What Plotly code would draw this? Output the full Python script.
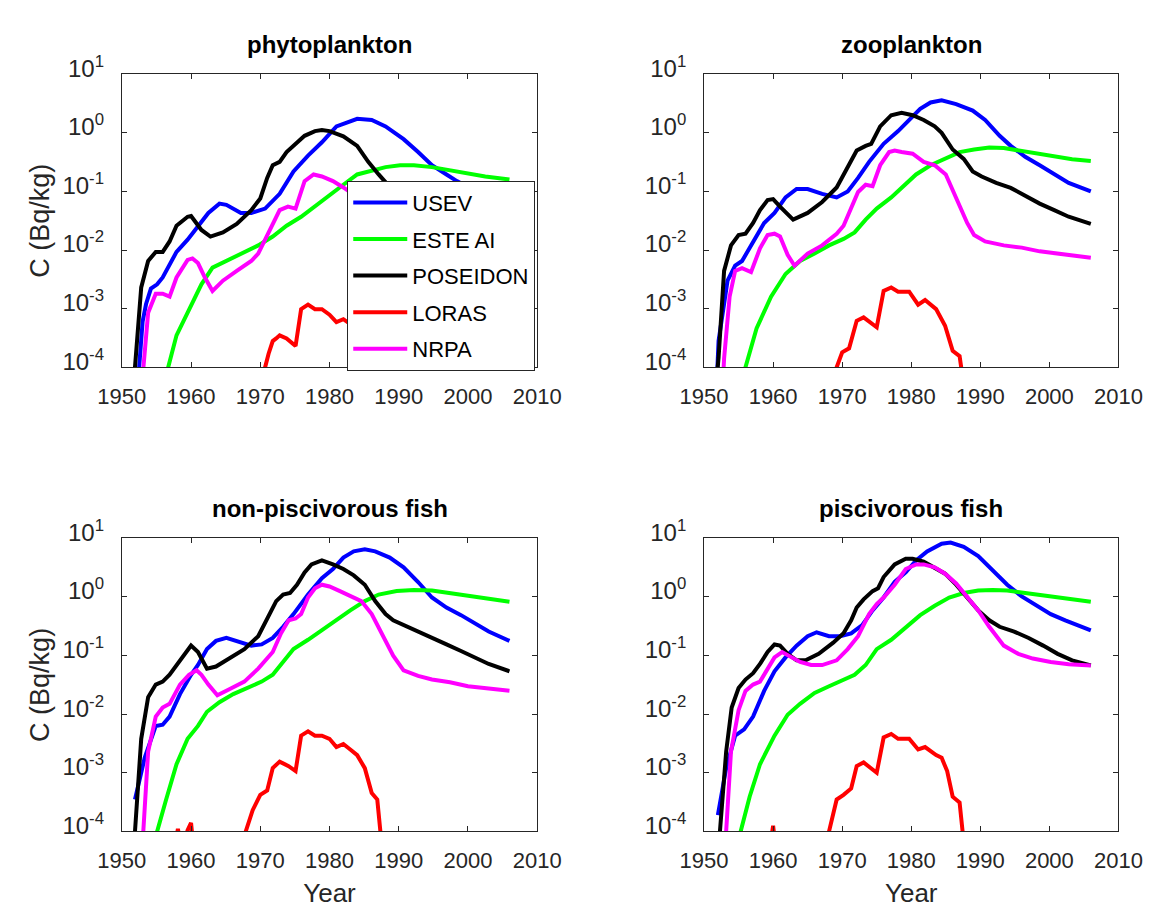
import plotly.graph_objects as go

# ---------------- data (C in Bq/kg vs year) ----------------
series_names = ["USEV", "ESTE AI", "POSEIDON", "LORAS", "NRPA"]
series_colors = ["#0000ff", "#00ff00", "#000000", "#ff0000", "#ff00ff"]
panel_titles = ["phytoplankton", "zooplankton", "non-piscivorous fish", "piscivorous fish"]
x_ticks = [1950, 1960, 1970, 1980, 1990, 2000, 2010]
y_ticks = [1e-4, 1e-3, 1e-2, 1e-1, 1e0, 1e1]
y_ticktext = ["10<sup>-4</sup>", "10<sup>-3</sup>", "10<sup>-2</sup>", "10<sup>-1</sup>", "10<sup>0</sup>", "10<sup>1</sup>"]

# phytoplankton
phyto_usev_year = [1952.2, 1952.5, 1953.0, 1953.5, 1954.2, 1955.1, 1955.9, 1957.9, 1959.5, 1961.0, 1962.5, 1964.1, 1965.1, 1967.2, 1968.7, 1970.7, 1972.8, 1974.8, 1976.9, 1978.9, 1981.0, 1984.0, 1986.1, 1988.1, 1990.7, 1992.8, 1994.8, 1996.9, 1998.4, 2000.5, 2003.0, 2006.0]
phyto_usev = [5e-5, 1e-4, 6e-4, 1.2e-3, 2.2e-3, 2.6e-3, 3.4e-3, 9.3e-3, 1.5e-2, 2.6e-2, 4.3e-2, 6.2e-2, 5.9e-2, 4.3e-2, 4.3e-2, 5.1e-2, 9.1e-2, 0.22, 0.41, 0.69, 1.29, 1.74, 1.66, 1.29, 0.78, 0.47, 0.28, 0.195, 0.15, 0.11, 0.075, 0.055]
phyto_este_year = [1956.4, 1956.7, 1957.9, 1960.0, 1961.5, 1963.1, 1965.1, 1967.2, 1969.7, 1971.8, 1973.8, 1975.9, 1977.9, 1980.0, 1982.0, 1984.0, 1986.1, 1988.1, 1990.2, 1992.2, 1994.8, 1997.4, 2000.0, 2002.5, 2006.0]
phyto_este = [5e-5, 1e-4, 3.5e-4, 1.1e-3, 2.6e-3, 5.0e-3, 6.5e-3, 8.3e-3, 1.2e-2, 1.7e-2, 2.6e-2, 3.7e-2, 5.5e-2, 8.5e-2, 0.13, 0.195, 0.23, 0.26, 0.28, 0.28, 0.26, 0.23, 0.20, 0.18, 0.16]
phyto_pos_year = [1951.7, 1951.9, 1952.8, 1953.8, 1954.9, 1955.9, 1956.9, 1957.9, 1959.5, 1960.0, 1961.5, 1962.8, 1964.6, 1966.6, 1968.7, 1970.0, 1971.0, 1971.8, 1972.8, 1973.8, 1975.3, 1976.4, 1977.9, 1978.9, 1980.0, 1982.0, 1984.0, 1985.6, 1987.1, 1987.9, 1990.0, 1995.0, 2000.0, 2006.0]
phyto_pos = [5e-5, 1e-4, 2.3e-3, 6.5e-3, 9.3e-3, 9.3e-3, 1.4e-2, 2.6e-2, 3.7e-2, 3.8e-2, 2.2e-2, 1.7e-2, 2.0e-2, 2.8e-2, 4.8e-2, 7.6e-2, 0.17, 0.28, 0.32, 0.47, 0.68, 0.89, 1.07, 1.12, 1.07, 0.87, 0.60, 0.32, 0.195, 0.15, 0.08, 0.04, 0.025, 0.015]
phyto_loras_year = [1970.4, 1970.7, 1971.2, 1971.8, 1972.3, 1972.8, 1973.8, 1975.1, 1975.9, 1976.9, 1977.9, 1978.9, 1980.0, 1981.0, 1982.0, 1982.6, 1984.0, 1985.0, 1985.8, 1986.3]
phyto_loras = [5e-5, 1e-4, 1.7e-4, 2.8e-4, 3.1e-4, 3.5e-4, 3.1e-4, 2.3e-4, 9.8e-4, 1.17e-3, 9.8e-4, 9.8e-4, 7.9e-4, 5.9e-4, 6.6e-4, 5.9e-4, 4.5e-4, 2.5e-4, 1.2e-4, 5e-5]
phyto_nrpa_year = [1952.9, 1953.1, 1953.8, 1954.9, 1955.9, 1956.9, 1957.9, 1959.5, 1960.2, 1961.0, 1962.0, 1963.1, 1964.6, 1966.6, 1968.7, 1969.7, 1971.2, 1972.8, 1974.0, 1975.1, 1976.4, 1977.7, 1978.9, 1980.5, 1982.0, 1984.0, 1986.0, 1988.0, 1990.0, 1995.0, 2000.0, 2006.0]
phyto_nrpa = [5e-5, 1e-4, 8.5e-4, 1.8e-3, 1.8e-3, 1.6e-3, 3.4e-3, 6.8e-3, 7.2e-3, 6.0e-3, 3.4e-3, 2.0e-3, 3.0e-3, 4.4e-3, 6.5e-3, 8.7e-3, 2.0e-2, 4.8e-2, 5.5e-2, 5.1e-2, 0.15, 0.195, 0.18, 0.15, 0.117, 0.08, 0.03, 0.012, 0.006, 0.005, 0.004, 0.003]

# zooplankton
zoo_usev_year = [1951.9, 1952.1, 1953.4, 1954.5, 1955.5, 1957.1, 1958.7, 1960.2, 1961.8, 1963.4, 1965.0, 1967.1, 1969.2, 1970.8, 1972.3, 1973.9, 1976.0, 1978.1, 1979.7, 1981.3, 1982.8, 1984.4, 1986.5, 1988.9, 1990.7, 1992.8, 1994.4, 1996.5, 1998.6, 2000.7, 2002.8, 2006.0]
zoo_usev = [8e-5, 2.8e-4, 3.0e-3, 5.4e-3, 6.5e-3, 1.4e-2, 2.9e-2, 4.3e-2, 7.9e-2, 0.11, 0.11, 0.091, 0.079, 0.10, 0.17, 0.32, 0.65, 1.07, 1.66, 2.57, 3.3, 3.6, 3.1, 2.4, 1.66, 0.89, 0.60, 0.39, 0.28, 0.195, 0.14, 0.10]
zoo_este_year = [1955.7, 1956.0, 1957.6, 1959.7, 1961.8, 1963.9, 1966.0, 1968.1, 1970.2, 1971.8, 1973.4, 1975.0, 1977.1, 1978.6, 1980.7, 1982.8, 1984.9, 1987.0, 1989.1, 1991.3, 1993.4, 1995.5, 1998.1, 2000.7, 2003.3, 2006.0]
zoo_este = [5e-5, 1e-4, 4.6e-4, 1.6e-3, 3.9e-3, 6.5e-3, 8.7e-3, 1.2e-2, 1.55e-2, 2.0e-2, 3.3e-2, 5.1e-2, 7.9e-2, 0.117, 0.195, 0.28, 0.36, 0.47, 0.52, 0.56, 0.55, 0.50, 0.44, 0.39, 0.355, 0.33]
zoo_pos_year = [1951.9, 1952.1, 1952.9, 1953.9, 1955.0, 1956.0, 1957.1, 1958.1, 1959.2, 1960.0, 1961.0, 1962.9, 1965.0, 1967.1, 1969.2, 1970.8, 1972.1, 1973.4, 1974.2, 1975.5, 1977.1, 1978.6, 1980.2, 1981.8, 1983.4, 1984.4, 1986.0, 1987.6, 1988.9, 1990.2, 1992.3, 1994.4, 1996.5, 1998.6, 2000.7, 2002.8, 2006.0]
zoo_pos = [8e-5, 1.45e-4, 4.4e-3, 1.2e-2, 1.8e-2, 1.9e-2, 2.9e-2, 4.8e-2, 7.1e-2, 7.4e-2, 5.5e-2, 3.3e-2, 4.3e-2, 6.6e-2, 0.117, 0.25, 0.50, 0.60, 0.65, 1.29, 2.0, 2.19, 2.0, 1.66, 1.29, 1.0, 0.52, 0.36, 0.22, 0.18, 0.14, 0.115, 0.085, 0.062, 0.048, 0.037, 0.028]
zoo_loras_year = [1969.0, 1969.2, 1970.0, 1971.0, 1972.1, 1973.1, 1975.0, 1976.0, 1977.1, 1978.1, 1979.7, 1981.0, 1982.0, 1983.6, 1984.9, 1986.0, 1987.0, 1987.3, 1987.5]
zoo_loras = [7e-5, 1e-4, 1.8e-4, 2.1e-4, 6.2e-4, 7.1e-4, 4.8e-4, 2.0e-3, 2.3e-3, 1.95e-3, 1.95e-3, 1.17e-3, 1.4e-3, 9.8e-4, 5.1e-4, 1.9e-4, 1.55e-4, 1e-4, 6e-5]
zoo_nrpa_year = [1952.7, 1952.9, 1953.7, 1954.5, 1955.5, 1956.8, 1958.1, 1959.2, 1960.2, 1961.0, 1962.1, 1963.1, 1965.0, 1967.1, 1969.2, 1970.2, 1972.3, 1973.4, 1974.4, 1975.5, 1976.8, 1977.6, 1978.6, 1980.2, 1981.8, 1983.4, 1985.0, 1986.5, 1988.1, 1989.1, 1990.7, 1993.4, 1996.0, 1998.6, 2001.3, 2006.0]
zoo_nrpa = [5e-5, 1.4e-4, 1.6e-3, 4.4e-3, 4.9e-3, 4.2e-3, 1.07e-2, 1.8e-2, 1.9e-2, 1.7e-2, 8.3e-3, 5.4e-3, 8.7e-3, 1.2e-2, 1.9e-2, 2.6e-2, 9.8e-2, 0.13, 0.123, 0.28, 0.47, 0.50, 0.47, 0.44, 0.32, 0.28, 0.195, 0.079, 0.029, 0.018, 0.014, 0.012, 0.011, 0.0095, 0.0087, 0.0074]

# non-piscivorous fish
np_usev_year = [1951.9, 1953.3, 1954.9, 1955.9, 1956.9, 1958.4, 1960.0, 1961.0, 1962.3, 1963.6, 1965.1, 1966.6, 1968.7, 1970.2, 1971.8, 1973.3, 1974.8, 1976.9, 1978.9, 1980.5, 1982.0, 1983.5, 1985.1, 1986.6, 1988.7, 1990.7, 1992.8, 1994.8, 1996.9, 1999.0, 2001.0, 2003.0, 2006.0]
np_usev = [3.5e-4, 1.8e-3, 6.3e-3, 6.6e-3, 9.1e-3, 2.2e-2, 4.7e-2, 6.9e-2, 0.129, 0.178, 0.20, 0.178, 0.148, 0.155, 0.20, 0.31, 0.51, 1.1, 2.1, 3.0, 4.7, 6.0, 6.5, 6.0, 4.7, 3.2, 1.8, 0.98, 0.66, 0.49, 0.355, 0.257, 0.178]
np_este_year = [1954.8, 1955.1, 1956.4, 1957.9, 1959.5, 1961.0, 1962.3, 1964.1, 1966.1, 1968.2, 1970.2, 1971.8, 1973.3, 1974.8, 1976.9, 1978.9, 1981.0, 1983.0, 1985.1, 1987.1, 1989.7, 1992.2, 1994.8, 1997.4, 2000.0, 2002.5, 2006.0]
np_este = [5e-5, 1e-4, 3.5e-4, 1.4e-3, 3.8e-3, 6.3e-3, 1.1e-2, 1.6e-2, 2.2e-2, 2.8e-2, 3.6e-2, 4.7e-2, 7.8e-2, 0.129, 0.186, 0.275, 0.40, 0.59, 0.85, 1.1, 1.26, 1.32, 1.29, 1.17, 1.07, 0.95, 0.83]
np_pos_year = [1951.7, 1951.9, 1952.8, 1953.8, 1954.9, 1955.9, 1956.9, 1957.9, 1959.0, 1960.0, 1961.0, 1962.3, 1963.6, 1965.6, 1967.7, 1969.7, 1971.2, 1972.3, 1973.3, 1974.3, 1975.3, 1976.4, 1977.4, 1978.9, 1980.5, 1982.0, 1983.5, 1985.1, 1986.6, 1988.1, 1989.2, 1990.7, 1992.8, 1994.8, 1996.9, 1999.0, 2001.0, 2003.0, 2006.0]
np_pos = [5e-5, 1e-4, 3.8e-3, 1.95e-2, 3.2e-2, 3.6e-2, 4.7e-2, 6.9e-2, 0.107, 0.148, 0.115, 0.06, 0.065, 0.089, 0.129, 0.214, 0.457, 0.85, 1.1, 1.17, 1.62, 2.63, 3.6, 4.2, 3.6, 3.0, 2.34, 1.62, 0.85, 0.51, 0.40, 0.33, 0.257, 0.20, 0.155, 0.12, 0.093, 0.072, 0.054]
np_loras_year = [1957.7, 1958.1, 1958.5, 1958.8, 1959.0, 1959.5, 1960.0, 1960.3, 1964.0, 1967.6, 1967.9, 1968.9, 1970.0, 1971.0, 1971.8, 1972.8, 1974.1, 1975.1, 1975.9, 1976.9, 1977.9, 1978.9, 1980.0, 1981.0, 1982.0, 1983.0, 1984.0, 1985.1, 1986.1, 1986.9, 1987.4, 1987.6]
np_loras = [6e-5, 1.1e-4, 6e-5, None, 6e-5, 1.05e-4, 1.4e-4, 6e-5, None, 5e-5, 1e-4, 2.3e-4, 4.2e-4, 5.0e-4, 1.2e-3, 1.55e-3, 1.3e-3, 1.07e-3, 4.3e-3, 5.1e-3, 4.3e-3, 4.3e-3, 3.8e-3, 2.75e-3, 3.1e-3, 2.5e-3, 2.0e-3, 1.2e-3, 4.5e-4, 3.5e-4, 1e-4, 5e-5]
np_nrpa_year = [1952.9, 1953.1, 1953.8, 1954.9, 1955.9, 1956.9, 1958.4, 1959.7, 1960.8, 1961.5, 1962.5, 1963.8, 1965.6, 1967.7, 1969.7, 1971.8, 1973.0, 1974.1, 1975.1, 1975.9, 1976.9, 1977.9, 1978.9, 1980.0, 1981.5, 1983.0, 1984.6, 1986.1, 1987.6, 1989.2, 1990.7, 1992.8, 1994.8, 1997.4, 2000.0, 2003.0, 2006.0]
np_nrpa = [5e-5, 1e-4, 2.3e-3, 9.1e-3, 1.3e-2, 1.5e-2, 3.2e-2, 4.7e-2, 5.6e-2, 4.7e-2, 3.2e-2, 2.1e-2, 2.7e-2, 3.6e-2, 6.0e-2, 0.115, 0.24, 0.40, 0.43, 0.51, 0.98, 1.41, 1.62, 1.51, 1.26, 1.02, 0.85, 0.51, 0.24, 0.10, 0.056, 0.045, 0.039, 0.035, 0.030, 0.0275, 0.025]

# piscivorous fish
pf_usev_year = [1952.0, 1953.2, 1954.5, 1955.8, 1957.1, 1958.7, 1960.2, 1961.8, 1963.4, 1965.0, 1966.3, 1968.1, 1969.7, 1971.3, 1972.9, 1974.4, 1976.0, 1977.6, 1979.2, 1980.7, 1982.3, 1984.4, 1985.7, 1987.6, 1989.7, 1991.8, 1993.9, 1996.0, 1998.1, 2000.2, 2002.3, 2006.0]
pf_usev = [1.9e-4, 1.2e-3, 4.3e-3, 5.5e-3, 9.1e-3, 2.5e-2, 5.4e-2, 9.3e-2, 0.148, 0.214, 0.25, 0.214, 0.214, 0.24, 0.33, 0.59, 0.98, 1.82, 2.63, 4.2, 6.0, 8.1, 8.5, 7.2, 5.0, 2.8, 1.62, 1.02, 0.71, 0.51, 0.40, 0.27]
pf_este_year = [1955.0, 1955.3, 1956.6, 1958.1, 1960.2, 1962.1, 1963.9, 1966.0, 1968.1, 1970.2, 1971.8, 1973.4, 1975.0, 1977.1, 1979.2, 1981.3, 1983.4, 1985.5, 1987.6, 1989.7, 1991.8, 1993.9, 1996.5, 1999.1, 2001.8, 2006.0]
pf_este = [5e-5, 1e-4, 3.9e-4, 1.4e-3, 4.3e-3, 9.8e-3, 1.5e-2, 2.3e-2, 3.0e-2, 3.9e-2, 4.7e-2, 6.9e-2, 0.129, 0.186, 0.295, 0.49, 0.71, 0.98, 1.17, 1.29, 1.32, 1.29, 1.17, 1.07, 0.98, 0.83]
pf_pos_year = [1952.2, 1952.3, 1953.2, 1954.0, 1955.0, 1956.0, 1957.1, 1958.1, 1959.2, 1960.2, 1961.0, 1962.1, 1963.4, 1964.7, 1966.6, 1968.7, 1970.2, 1971.3, 1972.1, 1973.1, 1974.4, 1975.2, 1976.0, 1977.6, 1979.2, 1980.2, 1981.8, 1983.4, 1984.9, 1986.5, 1988.1, 1989.7, 1991.3, 1992.8, 1994.9, 1997.0, 1999.1, 2001.2, 2003.3, 2006.0]
pf_pos = [5e-5, 1e-4, 2.3e-3, 1.3e-2, 2.8e-2, 3.9e-2, 5.0e-2, 7.2e-2, 0.115, 0.155, 0.148, 0.107, 0.083, 0.083, 0.107, 0.166, 0.24, 0.40, 0.66, 0.91, 1.26, 1.41, 2.19, 3.6, 4.5, 4.5, 4.0, 3.2, 2.5, 1.62, 0.98, 0.59, 0.40, 0.31, 0.257, 0.20, 0.148, 0.107, 0.083, 0.068]
pf_loras_year = [1959.6, 1960.0, 1960.3, 1964.0, 1967.8, 1968.1, 1969.2, 1970.2, 1971.3, 1972.1, 1973.1, 1975.0, 1976.0, 1977.1, 1978.1, 1979.7, 1981.0, 1982.0, 1983.6, 1984.4, 1985.2, 1986.0, 1987.0, 1987.5, 1987.7]
pf_loras = [6e-5, 1.25e-4, 6e-5, None, 5e-5, 1e-4, 3.5e-4, 4.2e-4, 5.4e-4, 1.3e-3, 1.5e-3, 1.0e-3, 4.0e-3, 4.6e-3, 3.8e-3, 3.8e-3, 2.5e-3, 2.75e-3, 2.0e-3, 1.8e-3, 1.07e-3, 3.9e-4, 3.1e-4, 1e-4, 5e-5]
pf_nrpa_year = [1953.0, 1953.2, 1953.9, 1955.0, 1956.0, 1957.1, 1958.1, 1959.2, 1960.2, 1961.3, 1962.3, 1963.9, 1965.5, 1967.1, 1969.2, 1970.8, 1972.3, 1973.9, 1975.0, 1976.0, 1977.6, 1979.2, 1980.7, 1981.8, 1983.4, 1984.9, 1986.5, 1988.1, 1989.7, 1991.3, 1993.4, 1995.5, 1997.6, 2000.2, 2002.8, 2006.0]
pf_nrpa = [5e-5, 1e-4, 2.3e-3, 1.17e-2, 2.5e-2, 3.2e-2, 3.6e-2, 6.0e-2, 9.3e-2, 0.115, 0.10, 0.078, 0.069, 0.069, 0.083, 0.129, 0.214, 0.51, 0.76, 0.98, 1.62, 3.0, 3.6, 3.6, 3.2, 2.5, 1.7, 1.02, 0.59, 0.31, 0.148, 0.107, 0.089, 0.078, 0.071, 0.068]

panels = [
    [(phyto_usev_year, phyto_usev), (phyto_este_year, phyto_este), (phyto_pos_year, phyto_pos), (phyto_loras_year, phyto_loras), (phyto_nrpa_year, phyto_nrpa)],
    [(zoo_usev_year, zoo_usev), (zoo_este_year, zoo_este), (zoo_pos_year, zoo_pos), (zoo_loras_year, zoo_loras), (zoo_nrpa_year, zoo_nrpa)],
    [(np_usev_year, np_usev), (np_este_year, np_este), (np_pos_year, np_pos), (np_loras_year, np_loras), (np_nrpa_year, np_nrpa)],
    [(pf_usev_year, pf_usev), (pf_este_year, pf_este), (pf_pos_year, pf_pos), (pf_loras_year, pf_loras), (pf_nrpa_year, pf_nrpa)],
]

# ---------------- layout ----------------
W, H = 1176, 908
FONT = "Liberation Sans, Arial, Helvetica, sans-serif"
AX = "#262626"
# pixel boxes (left, right, top, bottom)
boxes = [(102, 535, 53, 356), (709, 1141, 53, 356), (102, 535, 533, 836), (709, 1141, 533, 836)]

fig = go.Figure()
for p, data in enumerate(panels):
    sfx = "" if p == 0 else str(p + 1)
    for s, (xs, ys) in enumerate(data):
        fig.add_trace(go.Scatter(
            x=xs, y=ys, mode="lines", name=series_names[s],
            legendgroup=series_names[s], showlegend=(p == 0),
            line=dict(color=series_colors[s], width=4),
            xaxis="x" + sfx, yaxis="y" + sfx,
        ))

layout = dict(
    width=W, height=H, margin=dict(l=0, r=0, t=0, b=0),
    paper_bgcolor="white", plot_bgcolor="white",
    font=dict(family=FONT, color=AX),
    showlegend=True,
    legend=dict(
        x=337 / W, y=1 - 163 / H, xanchor="left", yanchor="top",
        bgcolor="white", bordercolor=AX, borderwidth=1,
        font=dict(size=22, family=FONT, color="#000000"),
        tracegroupgap=5, itemwidth=54,
    ),
    annotations=[],
)

for p, (l, r, t, b) in enumerate(boxes):
    sfx = "" if p == 0 else str(p + 1)
    xdom = [l / W, r / W]
    ydom = [1 - b / H, 1 - t / H]
    xa = dict(
        domain=xdom, anchor="y" + sfx, range=[1950, 2010], tickvals=x_ticks,
        ticks="inside", ticklen=5, tickcolor=AX, showline=True, linecolor=AX, linewidth=1,
        mirror="ticks", showgrid=False, zeroline=False,
        tickfont=dict(size=22, family=FONT, color=AX), ticklabelstandoff=9,
    )
    ya = dict(
        domain=ydom, anchor="x" + sfx, type="log", range=[-4, 1],
        tickvals=y_ticks, ticktext=y_ticktext,
        ticks="inside", ticklen=5, tickcolor=AX, showline=True, linecolor=AX, linewidth=1,
        mirror="ticks", showgrid=False, zeroline=False,
        tickfont=dict(size=24, family=FONT, color=AX), ticklabelstandoff=12,
        ticklabelshift=-6,
    )
    if p >= 2:
        xa["title"] = dict(text="Year", font=dict(size=26, family=FONT, color=AX), standoff=12)
    if p % 2 == 0:
        ya["title"] = dict(text="C (Bq/kg)", font=dict(size=27, family=FONT, color=AX), standoff=4)
    layout["xaxis" + sfx] = xa
    layout["yaxis" + sfx] = ya
    layout["annotations"].append(dict(
        text="<b>" + panel_titles[p] + "</b>", xref="paper", yref="paper",
        x=(l + r) / 2 / W, y=1 - (t - 31) / H, xanchor="center", yanchor="middle",
        showarrow=False, font=dict(size=24, family=FONT, color="#000000"),
    ))

fig.update_layout(**layout)
fig.write_html("out.html", post_script="document.body.style.margin='0';")
